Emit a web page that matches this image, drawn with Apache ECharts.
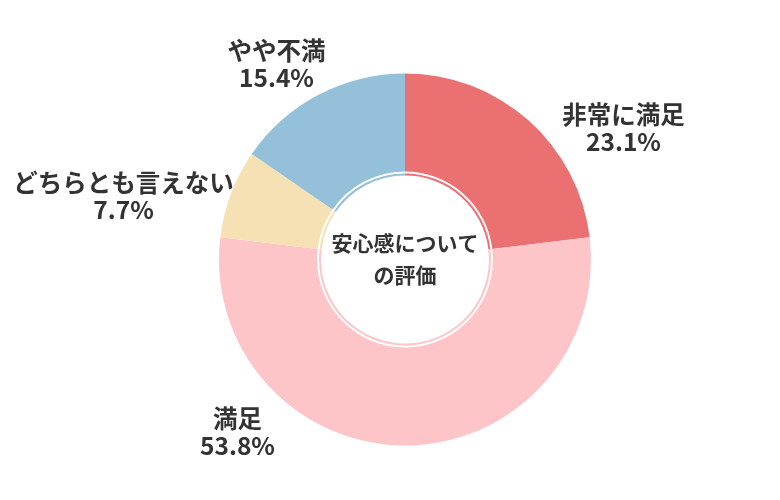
<!DOCTYPE html>
<html>
<head>
<meta charset="utf-8">
<script src="https://cdn.jsdelivr.net/npm/echarts@6/dist/echarts.min.js"></script>
<style>
html,body{margin:0;padding:0;background:#fff;}
#chart{width:780px;height:500px;}
</style>
</head>
<body>
<div id="chart"></div>
<script>
// Data
const categories = ['非常に満足', '満足', 'どちらとも言えない', 'やや不満'];
const values = [23.1, 53.8, 7.7, 15.4];
const centerTitle = '安心感について\nの評価';

// Styling (kept separate from data)
const colors = ['#EB7072', '#FEC5C8', '#F5E1B3', '#94C0DA'];
const labelOffsets = [[218.5, -131.5], [-167.5, 172.5], [-281.5, -63.5], [-128.5, -195]];
const CX = 405, CY = 259.5;
const FONT = '"Noto Sans CJK JP", "Noto Sans", sans-serif';

const pieData = categories.map((name, i) => ({
  name: name,
  value: values[i],
  itemStyle: { color: colors[i] }
}));

const chart = echarts.init(document.getElementById('chart'), null, { renderer: 'canvas' });
chart.setOption({
  animation: false,
  backgroundColor: '#ffffff',
  series: [
    {
      type: 'pie',
      center: [CX, CY],
      radius: [88, 186],
      startAngle: 90,
      clockwise: true,
      data: pieData,
      itemStyle: { borderWidth: 0 },
      label: {
        show: true,
        position: 'outside',
        alignTo: 'none',
        overflow: 'none',
        width: 400,
        formatter: function (p) { return p.name + '\n' + p.value.toFixed(1) + '%'; },
        fontFamily: FONT,
        fontSize: 24.5,
        fontWeight: 'bold',
        color: '#333333',
        lineHeight: 27,
        align: 'center'
      },
      labelLine: { show: false },
      labelLayout: function (params) {
        const o = labelOffsets[params.dataIndex];
        return { x: CX + o[0], y: CY + o[1], align: 'center', verticalAlign: 'middle' };
      },
      emphasis: { disabled: true }
    },
    {
      type: 'pie',
      center: [CX, CY],
      radius: [84, 86],
      startAngle: 90,
      clockwise: true,
      silent: true,
      data: pieData,
      itemStyle: { borderWidth: 0 },
      label: { show: false },
      labelLine: { show: false },
      emphasis: { disabled: true }
    }
  ],
  graphic: [
    {
      type: 'text',
      x: CX,
      y: CY,
      style: {
        text: centerTitle,
        fontFamily: FONT,
        fontSize: 21,
        fontWeight: 'bold',
        fill: '#333333',
        lineHeight: 32,
        align: 'center',
        verticalAlign: 'middle'
      }
    }
  ]
});
</script>
</body>
</html>
